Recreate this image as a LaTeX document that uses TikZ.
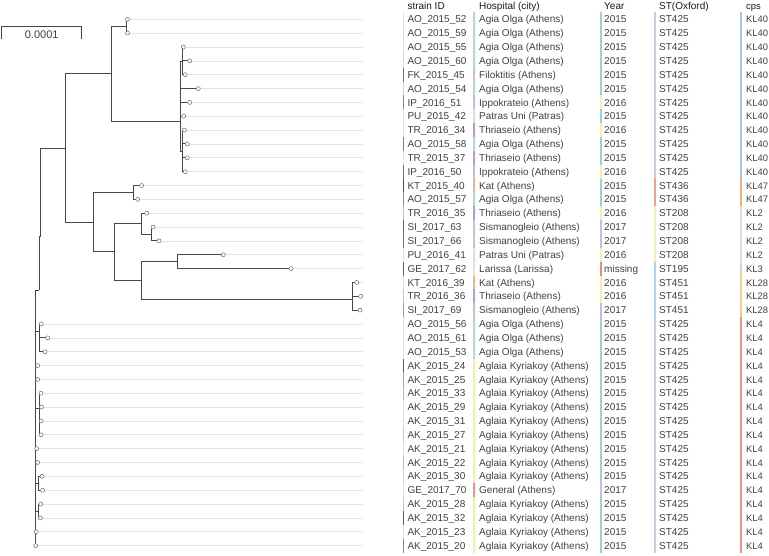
\documentclass[tikz,border=0pt]{standalone}
\usepackage{fontspec}
\setmainfont{Liberation Sans}
% strain ID bar colours
\definecolor{pyel}{HTML}{F2E8A2}
\definecolor{pgrn}{HTML}{C9E8B5}
\definecolor{crim}{HTML}{D2455F}
\definecolor{yel}{HTML}{F2DC70}
\definecolor{teal}{HTML}{3FA99A}
\definecolor{pgry}{HTML}{E2E2EA}
\definecolor{mag}{HTML}{C94FC0}
\definecolor{blu}{HTML}{5573CC}
\definecolor{dpur}{HTML}{4E3F9E}
\definecolor{pink}{HTML}{DE5FB8}
\definecolor{lav}{HTML}{C4B5E4}
\definecolor{pur}{HTML}{6553C4}
\definecolor{purb}{HTML}{7563C8}
\definecolor{olive}{HTML}{5E6E2E}
\definecolor{lgrn}{HTML}{A3DDA6}
\definecolor{grn}{HTML}{55C08A}
\definecolor{ppink}{HTML}{F0D8E8}
\definecolor{dteal}{HTML}{2F6F7E}
\definecolor{cyan}{HTML}{4EC3D2}
\definecolor{orng}{HTML}{F0B24A}
\definecolor{yorg}{HTML}{F2C85A}
\definecolor{lblg}{HTML}{A8BCD4}
\definecolor{lgrnb}{HTML}{B8E2A8}
\definecolor{lpink}{HTML}{F2A8D6}
\definecolor{ygrn}{HTML}{E0EFA4}
\definecolor{pblu}{HTML}{8474E0}
% hospital colours
\definecolor{hAO}{HTML}{A9DDD8}
\definecolor{hFK}{HTML}{E9B8C8}
\definecolor{hIP}{HTML}{A9C7EA}
\definecolor{hPU}{HTML}{F3D1E6}
\definecolor{hTR}{HTML}{B899D9}
\definecolor{hKT}{HTML}{F3B587}
\definecolor{hSI}{HTML}{C6BDE8}
\definecolor{hLA}{HTML}{E6E3C8}
\definecolor{hAK}{HTML}{F2EFA8}
\definecolor{hGE}{HTML}{F09090}
% year colours
\definecolor{y2015}{HTML}{9AD3CB}
\definecolor{y2016}{HTML}{F6EFA8}
\definecolor{y2017}{HTML}{C3BCE3}
\definecolor{ymissing}{HTML}{EE8A7A}
% ST colours
\definecolor{sST425}{HTML}{CBCBE3}
\definecolor{sST436}{HTML}{F0A08E}
\definecolor{sST208}{HTML}{F6EEB0}
\definecolor{sST195}{HTML}{A9D6E3}
\definecolor{sST451}{HTML}{B3D2EA}
% cps colours
\definecolor{kKL40}{HTML}{A3C9E3}
\definecolor{kKL47}{HTML}{F2B273}
\definecolor{kKL2}{HTML}{DCDCEE}
\definecolor{kKL3}{HTML}{C8E3B0}
\definecolor{kKL28}{HTML}{F6CF86}
\definecolor{kKL4}{HTML}{EF9383}
\newcommand\leafpt[2]{\coordinate (P#1) at (#2,{19.3+13.85*(#1-1)});
  \coordinate (E#1) at (362.7,{19.3+13.85*(#1-1)});}
\begin{document}
\begin{tikzpicture}[x=1pt,y=-1pt,
  tipnode/.style={circle,draw=black!55,fill=white,line width=0.55pt,inner sep=0pt,minimum size=4pt},
  br/.style={draw=black!72,line width=1pt},
  guide/.style={draw=black!11,line width=0.7pt},
  cell/.style={anchor=base west,inner sep=0pt,font=\fontsize{10}{12}\selectfont,text=black!75},
  cpscell/.style={cell,font=\fontsize{9.4}{12}\selectfont},
  head/.style={cell,text=black!90},
  cbar/.style={line width=1.1pt}]
\useasboundingbox (0,0) rectangle (769,555);

% ---------- header ----------
\node[head] (hs) at (407.3,9.2) {strain ID};
\node[head] (hh) at (479,9.2) {Hospital (city)};
\node[head] (hy) at (604,9.2) {Year};
\node[head] (ht) at (659,9.2) {ST(Oxford)};
\node[head,font=\fontsize{9.4}{12}\selectfont] (hk) at (746,9.2) {cps};

% ---------- table ----------
\foreach \i/\s/\sc/\h/\hc/\y/\st/\k in {
 1/AO\_2015\_52/pyel/Agia Olga (Athens)/hAO/2015/ST425/KL40,
 2/AO\_2015\_59/pgrn/Agia Olga (Athens)/hAO/2015/ST425/KL40,
 3/AO\_2015\_55/pyel/Agia Olga (Athens)/hAO/2015/ST425/KL40,
 4/AO\_2015\_60/pgrn/Agia Olga (Athens)/hAO/2015/ST425/KL40,
 5/FK\_2015\_45/crim/Filoktitis (Athens)/hFK/2015/ST425/KL40,
 6/AO\_2015\_54/yel/Agia Olga (Athens)/hAO/2015/ST425/KL40,
 7/IP\_2016\_51/teal/Ippokrateio (Athens)/hIP/2016/ST425/KL40,
 8/PU\_2015\_42/pyel/Patras Uni (Patras)/hPU/2015/ST425/KL40,
 9/TR\_2016\_34/pgry/Thriaseio (Athens)/hTR/2016/ST425/KL40,
 10/AO\_2015\_58/mag/Agia Olga (Athens)/hAO/2015/ST425/KL40,
 11/TR\_2015\_37/pgry/Thriaseio (Athens)/hTR/2015/ST425/KL40,
 12/IP\_2016\_50/blu/Ippokrateio (Athens)/hIP/2016/ST425/KL40,
 13/KT\_2015\_40/dpur/Kat (Athens)/hKT/2015/ST436/KL47,
 14/AO\_2015\_57/pink/Agia Olga (Athens)/hAO/2015/ST436/KL47,
 15/TR\_2016\_35/lav/Thriaseio (Athens)/hTR/2016/ST208/KL2,
 16/SI\_2017\_63/pur/Sismanogleio (Athens)/hSI/2017/ST208/KL2,
 17/SI\_2017\_66/purb/Sismanogleio (Athens)/hSI/2017/ST208/KL2,
 18/PU\_2016\_41/pyel/Patras Uni (Patras)/hPU/2016/ST208/KL2,
 19/GE\_2017\_62/olive/Larissa (Larissa)/hLA/missing/ST195/KL3,
 20/KT\_2016\_39/pgry/Kat (Athens)/hKT/2016/ST451/KL28,
 21/TR\_2016\_36/lgrn/Thriaseio (Athens)/hTR/2016/ST451/KL28,
 22/SI\_2017\_69/grn/Sismanogleio (Athens)/hSI/2017/ST451/KL28,
 23/AO\_2015\_56/pyel/Agia Olga (Athens)/hAO/2015/ST425/KL4,
 24/AO\_2015\_61/pgry/Agia Olga (Athens)/hAO/2015/ST425/KL4,
 25/AO\_2015\_53/ppink/Agia Olga (Athens)/hAO/2015/ST425/KL4,
 26/AK\_2015\_24/dteal/Aglaia Kyriakoy (Athens)/hAK/2015/ST425/KL4,
 27/AK\_2015\_25/cyan/Aglaia Kyriakoy (Athens)/hAK/2015/ST425/KL4,
 28/AK\_2015\_33/orng/Aglaia Kyriakoy (Athens)/hAK/2015/ST425/KL4,
 29/AK\_2015\_29/pgry/Aglaia Kyriakoy (Athens)/hAK/2015/ST425/KL4,
 30/AK\_2015\_31/pgry/Aglaia Kyriakoy (Athens)/hAK/2015/ST425/KL4,
 31/AK\_2015\_27/yorg/Aglaia Kyriakoy (Athens)/hAK/2015/ST425/KL4,
 32/AK\_2015\_21/pgry/Aglaia Kyriakoy (Athens)/hAK/2015/ST425/KL4,
 33/AK\_2015\_22/lblg/Aglaia Kyriakoy (Athens)/hAK/2015/ST425/KL4,
 34/AK\_2015\_30/lgrnb/Aglaia Kyriakoy (Athens)/hAK/2015/ST425/KL4,
 35/GE\_2017\_70/pgry/General (Athens)/hGE/2017/ST425/KL4,
 36/AK\_2015\_28/lpink/Aglaia Kyriakoy (Athens)/hAK/2015/ST425/KL4,
 37/AK\_2015\_32/dteal/Aglaia Kyriakoy (Athens)/hAK/2015/ST425/KL4,
 38/AK\_2015\_23/ygrn/Aglaia Kyriakoy (Athens)/hAK/2015/ST425/KL4,
 39/AK\_2015\_20/pblu/Aglaia Kyriakoy (Athens)/hAK/2015/ST425/KL4}{
  \pgfmathsetmacro\ry{19.3+13.85*(\i-1)}
  \draw[cbar,color=\sc] (403.5,{\ry-6.93}) -- (403.5,{\ry+6.93});
  \draw[cbar,color=\hc] (474,{\ry-6.93}) -- (474,{\ry+6.93});
  \draw[cbar,color=y\y] (601,{\ry-6.93}) -- (601,{\ry+6.93});
  \draw[cbar,color=s\st] (655,{\ry-6.93}) -- (655,{\ry+6.93});
  \draw[cbar,color=k\k] (741,{\ry-6.93}) -- (741,{\ry+6.93});
  \node[cell] (s\i) at (407.3,{\ry+3.6}) {\s};
  \node[cell] (h\i) at (479,{\ry+3.6}) {\h};
  \node[cell] (y\i) at (604,{\ry+3.6}) {\y};
  \node[cell] (t\i) at (659,{\ry+3.6}) {\st};
  \node[cpscell] (k\i) at (746,{\ry+3.6}) {\k};
}

% ---------- leaf points ----------
\leafpt{1}{127.5}\leafpt{2}{127.5}\leafpt{3}{183.3}\leafpt{4}{189.7}
\leafpt{5}{185.3}\leafpt{6}{198.3}\leafpt{7}{189.7}\leafpt{8}{183.7}
\leafpt{9}{184.3}\leafpt{10}{187.3}\leafpt{11}{187.3}\leafpt{12}{185.3}
\leafpt{13}{141.7}\leafpt{14}{137.7}\leafpt{15}{146.7}\leafpt{16}{153}
\leafpt{17}{159}\leafpt{18}{223.3}\leafpt{19}{291}\leafpt{20}{356.7}
\leafpt{21}{360.7}\leafpt{22}{360}\leafpt{23}{41.3}\leafpt{24}{47.7}
\leafpt{25}{45}\leafpt{26}{37.7}\leafpt{27}{37.7}\leafpt{28}{41}
\leafpt{29}{41.5}\leafpt{30}{41.2}\leafpt{31}{40.9}\leafpt{32}{36.7}
\leafpt{33}{37.7}\leafpt{34}{42}\leafpt{35}{42.7}\leafpt{36}{40.7}
\leafpt{37}{40.3}\leafpt{38}{36.2}\leafpt{39}{35.6}

% guide lines
\foreach \i in {1,...,39}{\draw[guide] (P\i) -- (E\i);}

% ---------- internal nodes ----------
\coordinate (n12) at (126,26.3);
\coordinate (nG1) at (182.3,61);
\coordinate (nG2) at (182.5,151.1);
\coordinate (nC) at (180,121);
\coordinate (nA) at (111.7,73.3);
\coordinate (n1314) at (133.3,192.7);
\coordinate (n1617) at (151.7,234);
\coordinate (n1517) at (141,223.3);
\coordinate (n1819) at (177.3,261.7);
\coordinate (n2022) at (352.7,299.3);
\coordinate (nD) at (141.7,280.7);
\coordinate (nE) at (114.3,251.7);
\coordinate (nF) at (93.3,222.3);
\coordinate (nB) at (65.7,148.3);
\coordinate (nTop) at (40,236.7);
\coordinate (nR1) at (39.3,290);
\coordinate (n2325) at (39.3,331.7);
\coordinate (nG28) at (39.7,408);
\coordinate (nR2) at (35.7,408);
\coordinate (n3435) at (38.8,483.3);
\coordinate (n3637) at (38.3,511);
\coordinate (nRoot) at (35,408);

% ---------- branches ----------
\foreach \p/\c in {n12/P1,n12/P2,
  nG1/P3,nG1/P4,nG1/P5,
  nG2/P9,nG2/P10,nG2/P11,nG2/P12,
  nC/nG1,nC/P6,nC/P7,nC/P8,nC/nG2,
  nA/n12,nA/nC,
  n1314/P13,n1314/P14,
  n1617/P16,n1617/P17,
  n1517/P15,n1517/n1617,
  n1819/P18,n1819/P19,
  n2022/P20,n2022/P21,n2022/P22,
  nD/n1819,nD/n2022,
  nE/n1517,nE/nD,
  nF/n1314,nF/nE,
  nB/nA,nB/nF,
  nTop/nB,
  nR1/nTop,
  n2325/P23,n2325/P24,n2325/P25,
  nG28/P28,nG28/P29,nG28/P30,nG28/P31,
  nR2/nR1,nR2/n2325,nR2/P26,nR2/P27,nR2/nG28,
  n3435/P34,n3435/P35,
  n3637/P36,n3637/P37,
  nRoot/nR2,nRoot/P32,nRoot/P33,nRoot/n3435,nRoot/n3637,nRoot/P38,nRoot/P39}{
  \draw[br] (\p) |- (\c);
}

% tips
\foreach \i in {1,...,39}{\node[tipnode] (L\i) at (P\i) {};}

% ---------- scale bar ----------
\coordinate (sb1) at (1.7,39);
\coordinate (sb2) at (1.7,26);
\coordinate (sb3) at (81.7,26);
\coordinate (sb4) at (81.7,39);
\draw[br,line width=0.8pt] (sb1) -- (sb2) -- (sb3) -- (sb4);
\node[font=\fontsize{11}{13}\selectfont,text=black!75] (sbl) at (41.7,34.3) {0.0001};
\end{tikzpicture}
\end{document}
